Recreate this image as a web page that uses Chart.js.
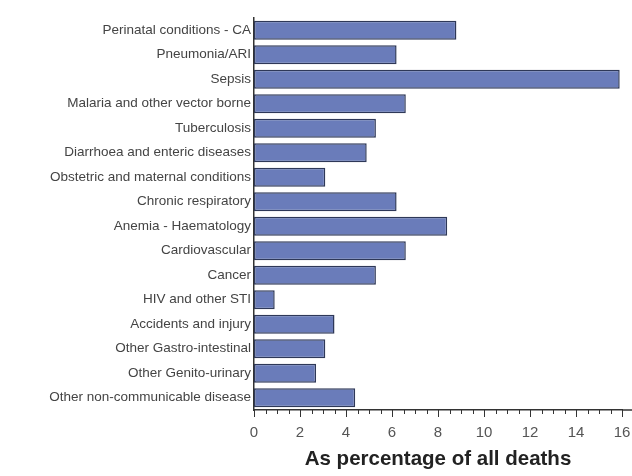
<!DOCTYPE html>
<html>
<head>
<meta charset="utf-8">
<script src="https://cdn.jsdelivr.net/npm/chart.js@4"></script>
<style>
  html, body { margin: 0; padding: 0; background: #ffffff; }
  #wrap { width: 632px; height: 476px; position: relative; }
</style>
</head>
<body>
<div id="wrap"><canvas id="deathsChart"></canvas></div>
<script>
// Causes of death, share of all deaths (%)
const causes = [
    'Perinatal conditions - CA',
    'Pneumonia/ARI',
    'Sepsis',
    'Malaria and other vector borne',
    'Tuberculosis',
    'Diarrhoea and enteric diseases',
    'Obstetric and maternal conditions',
    'Chronic respiratory',
    'Anemia - Haematology',
    'Cardiovascular',
    'Cancer',
    'HIV and other STI',
    'Accidents and injury',
    'Other Gastro-intestinal',
    'Other Genito-urinary',
    'Other non-communicable disease'
];
const percentages = [8.8, 6.2, 15.9, 6.6, 5.3, 4.9, 3.1, 6.2, 8.4, 6.6, 5.3, 0.9, 3.5, 3.1, 2.7, 4.4];
const xTicks = [0, 2, 4, 6, 8, 10, 12, 14, 16];
const axisTitle = 'As percentage of all deaths';

// major ticks every 2, minor every 0.5, axis line runs on past the last tick
const tickMarks = {
    id: 'tickMarks',
    afterDraw(chart) {
        const x = chart.scales.x;
        const ctx = chart.ctx;
        const y0 = x.top;
        ctx.save();
        ctx.strokeStyle = '#333333';
        ctx.lineWidth = 1;
        for (let v = xTicks[0]; v <= xTicks[xTicks.length - 1] + 1e-9; v += 0.5) {
            const px = Math.round(x.getPixelForValue(v)) + 0.5;
            const len = xTicks.includes(v) ? 7 : 4;
            ctx.beginPath();
            ctx.moveTo(px, y0);
            ctx.lineTo(px, y0 + len);
            ctx.stroke();
        }
        ctx.lineWidth = 1.5;
        ctx.beginPath();
        ctx.moveTo(x.right, y0);
        ctx.lineTo(chart.width, y0);
        ctx.stroke();
        ctx.restore();
    }
};

new Chart(document.getElementById('deathsChart'), {
    type: 'bar',
    data: {
        labels: causes,
        datasets: [{
            data: percentages,
            backgroundColor: '#6a7cba',
            borderColor: '#2e3858',
            borderWidth: 1.5,
            borderSkipped: false,
            barPercentage: 0.78,
            categoryPercentage: 1
        }]
    },
    options: {
        indexAxis: 'y',
        responsive: true,
        maintainAspectRatio: false,
        animation: false,
        layout: { padding: { top: 18, right: 0, bottom: 0, left: 0 } },
        plugins: {
            legend: { display: false },
            tooltip: { enabled: false }
        },
        scales: {
            x: {
                min: 0,
                max: 16,
                afterBuildTicks: (scale) => {
                    scale.ticks = xTicks.map(v => ({ value: v }));
                },
                afterFit: (scale) => {
                    scale.height = 66;
                    scale.paddingRight = 10;
                },
                grid: { display: false, drawTicks: false },
                border: { display: true, color: '#333333', width: 1.5 },
                ticks: {
                    padding: 14,
                    color: '#555555',
                    font: { family: 'Liberation Sans, Arial, sans-serif', size: 15 }
                },
                title: {
                    display: true,
                    text: axisTitle,
                    color: '#222222',
                    padding: { top: 2, bottom: 4 },
                    font: { family: 'Liberation Sans, Arial, sans-serif', size: 20.5, weight: 'bold' }
                }
            },
            y: {
                afterFit: (scale) => { scale.width = 254; },
                grid: { display: false, drawTicks: false },
                border: { display: true, color: '#333333', width: 1.5 },
                ticks: {
                    padding: 3,
                    color: '#444444',
                    autoSkip: false,
                    font: { family: 'Liberation Sans, Arial, sans-serif', size: 13.5 }
                }
            }
        }
    },
    plugins: [tickMarks]
});
</script>
</body>
</html>
